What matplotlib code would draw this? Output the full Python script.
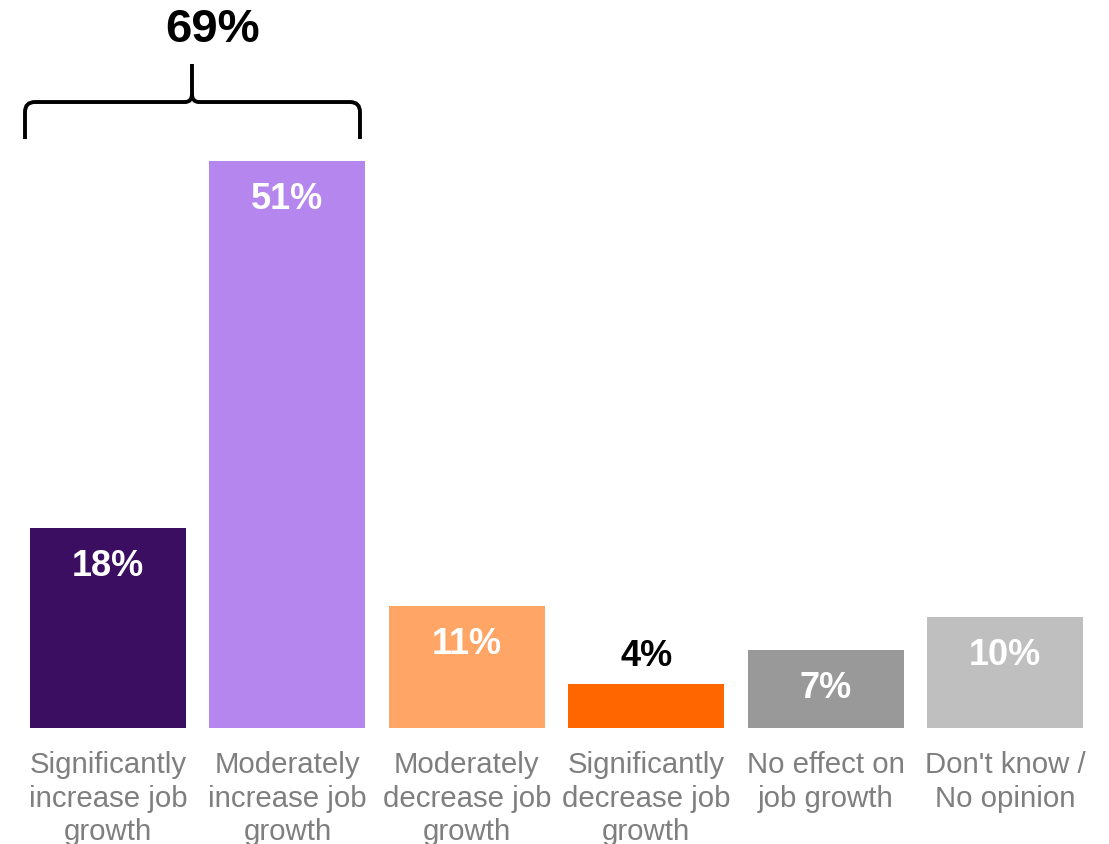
import matplotlib.pyplot as plt
from matplotlib.path import Path
from matplotlib.patches import PathPatch

plt.rcParams['font.family'] = ['Liberation Sans', 'DejaVu Sans']

# Survey responses
categories = [
    'Significantly\nincrease job\ngrowth',
    'Moderately\nincrease job\ngrowth',
    'Moderately\ndecrease job\ngrowth',
    'Significantly\ndecrease job\ngrowth',
    'No effect on\njob growth',
    "Don't know /\nNo opinion",
]
values = [18, 51, 11, 4, 7, 10]
colors = ['#3C0E62', '#B586EE', '#FFA566', '#FF6600', '#999999', '#BFBFBF']
increase_total = 69

fig = plt.figure(figsize=(11.09, 8.45), dpi=100)
ax = fig.add_axes([0, 0.1373, 1, 0.8627])

x = list(range(len(values)))
bars = ax.bar(x, values, width=0.87, color=colors)

ax.set_xlim(-0.602, 5.580)
ax.set_ylim(0, 65.56)

# value labels: inside near the top, or above when the bar is too short
for xi, v in zip(x, values):
    if v >= 5:
        ax.text(xi, v - 3.4, f'{v}%', ha='center', va='center',
                fontsize=26, fontweight='bold', color='white')
    else:
        ax.text(xi, v + 2.5, f'{v}%', ha='center', va='center',
                fontsize=26, fontweight='bold', color='black')

ax.set_xticks(x)
ax.set_xticklabels(categories, fontsize=21.2, color='#7F7F7F',
                   linespacing=1.25, va='top')
ax.tick_params(axis='x', length=0, pad=16)
ax.tick_params(axis='y', left=False, labelleft=False)
for s in ax.spines.values():
    s.set_visible(False)

# brace over the two "increase" bars
px_x = 1 / 179.4
px_y = 1 / 11.12


def pt(px, py):
    return ((px - 108) * px_x, (729 - py) * px_y)


verts = [
    pt(25, 140), pt(25, 113), pt(25, 103), pt(35, 103),
    pt(185, 103), pt(192, 103), pt(192, 95), pt(192, 65),
    pt(360, 140), pt(360, 113), pt(360, 103), pt(350, 103),
    pt(199, 103), pt(192, 103), pt(192, 95),
]
codes = [
    Path.MOVETO, Path.LINETO, Path.CURVE3, Path.CURVE3,
    Path.LINETO, Path.CURVE3, Path.CURVE3, Path.LINETO,
    Path.MOVETO, Path.LINETO, Path.CURVE3, Path.CURVE3,
    Path.LINETO, Path.CURVE3, Path.CURVE3,
]
ax.add_patch(PathPatch(Path(verts, codes), facecolor='none',
                       edgecolor='black', lw=2.8, clip_on=False))

tx, ty = pt(213, 30)
ax.text(tx, ty, f'{increase_total}%', ha='center', va='center',
        fontsize=34, fontweight='bold', color='black')

fig.savefig('out.png', dpi=100)
